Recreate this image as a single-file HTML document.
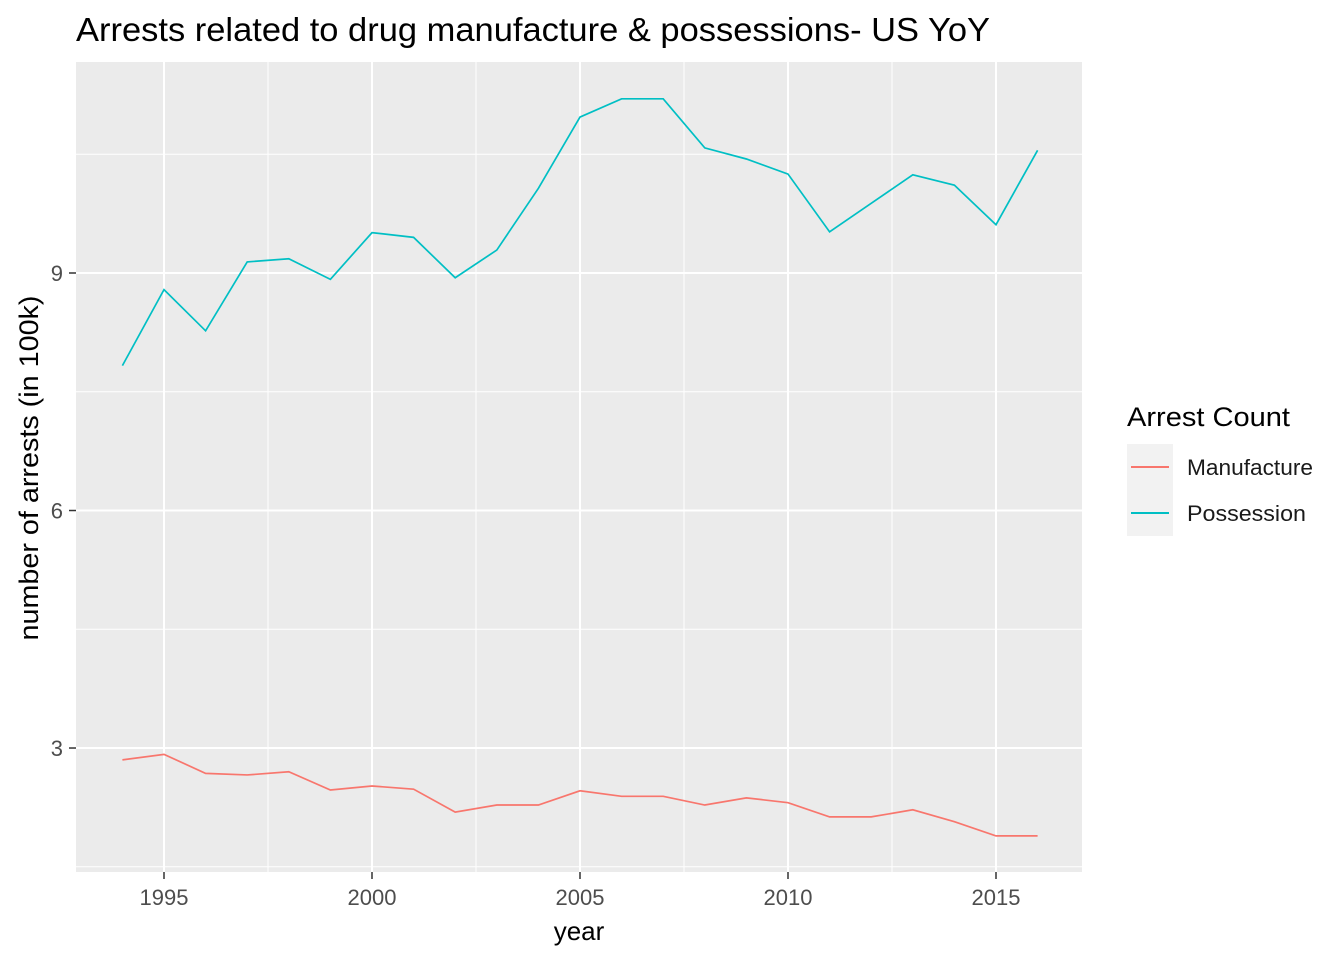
<!DOCTYPE html>
<html><head><meta charset="utf-8"><style>body{margin:0;background:#fff}svg{display:block;font-family:"Liberation Sans",sans-serif}</style></head>
<body>
<svg id="chart" width="1344" height="960" xmlns="http://www.w3.org/2000/svg">
<text x="76" y="41" font-size="33" textLength="914" lengthAdjust="spacingAndGlyphs" fill="#000">Arrests related to drug manufacture &amp; possessions- US YoY</text>
<rect x="76" y="62" width="1006" height="810" fill="#ebebeb"/>
<g id="grid"></g>
<g id="series"></g>
<g id="axes"></g>
<text x="579" y="940" font-size="26" text-anchor="middle" fill="#000">year</text>
<text transform="translate(38,468) rotate(-90)" font-size="27" text-anchor="middle" textLength="345" lengthAdjust="spacingAndGlyphs" fill="#000">number of arrests (in 100k)</text>
<g>
<text x="1127" y="426" font-size="27" textLength="163" lengthAdjust="spacingAndGlyphs" fill="#000">Arrest Count</text>
<rect x="1127" y="444" width="46" height="46" fill="#f2f2f2"/>
<line x1="1131" x2="1169" y1="467" y2="467" stroke="#F8766D" stroke-width="2"/>
<text x="1187" y="475" font-size="22" textLength="126" lengthAdjust="spacingAndGlyphs" fill="#1a1a1a">Manufacture</text>
<rect x="1127" y="490" width="46" height="46" fill="#f2f2f2"/>
<line x1="1131" x2="1169" y1="513" y2="513" stroke="#00BFC4" stroke-width="2"/>
<text x="1187" y="521" font-size="22" textLength="119" lengthAdjust="spacingAndGlyphs" fill="#1a1a1a">Possession</text>
</g>
</svg>
<script>
const years=[1994,1995,1996,1997,1998,1999,2000,2001,2002,2003,2004,2005,2006,2007,2008,2009,2010,2011,2012,2013,2014,2015,2016];
const possession=[7.83,8.79,8.27,9.14,9.18,8.92,9.51,9.45,8.94,9.29,10.07,10.97,11.20,11.20,10.58,10.44,10.25,9.52,9.88,10.24,10.11,9.61,10.55];
const manufacture=[2.85,2.92,2.68,2.66,2.70,2.47,2.52,2.48,2.19,2.28,2.28,2.46,2.39,2.39,2.28,2.37,2.31,2.13,2.13,2.22,2.07,1.89,1.89];
const xTicks=[1995,2000,2005,2010,2015];
const yTicks=[3,6,9];
const ns="http://www.w3.org/2000/svg";
const x=v=>164+(v-1995)*41.6;
const y=v=>273-(v-9)*79.17;
function mk(tag,attrs,parent){const e=document.createElementNS(ns,tag);for(const k in attrs)e.setAttribute(k,attrs[k]);parent.appendChild(e);return e;}
const grid=document.getElementById('grid'),axes=document.getElementById('axes'),series=document.getElementById('series');
[1992.5,1997.5,2002.5,2007.5,2012.5].forEach(v=>{const l=mk('line',{x1:x(v),x2:x(v),y1:62,y2:872,stroke:'#fff','stroke-width':1},grid);});
[1.5,4.5,7.5,10.5].forEach(v=>{const l=mk('line',{x1:76,x2:1082,y1:y(v),y2:y(v),stroke:'#fff','stroke-width':1},grid);});
xTicks.forEach(v=>{const l=mk('line',{x1:x(v),x2:x(v),y1:62,y2:872,stroke:'#fff','stroke-width':2},grid);
const t=mk('line',{x1:x(v),x2:x(v),y1:872,y2:879,stroke:'#333','stroke-width':1.5},axes);
const tx=mk('text',{x:x(v),y:905,'font-size':22,'text-anchor':'middle',fill:'#4d4d4d'},axes);tx.textContent=v;});
yTicks.forEach(v=>{const l=mk('line',{x1:76,x2:1082,y1:y(v),y2:y(v),stroke:'#fff','stroke-width':2},grid);
const t=mk('line',{x1:69,x2:76,y1:y(v),y2:y(v),stroke:'#333','stroke-width':1.5},axes);
const tx=mk('text',{x:63,y:y(v)+8,'font-size':22,'text-anchor':'end',fill:'#4d4d4d'},axes);tx.textContent=v;});
function line(vals,color,name){const p=mk('polyline',{points:years.map((yr,i)=>x(yr)+','+y(vals[i])).join(' '),fill:'none',stroke:color,'stroke-width':1.7},series);}
line(possession,'#00BFC4','possession-line');
line(manufacture,'#F8766D','manufacture-line');
</script>
</body></html>
